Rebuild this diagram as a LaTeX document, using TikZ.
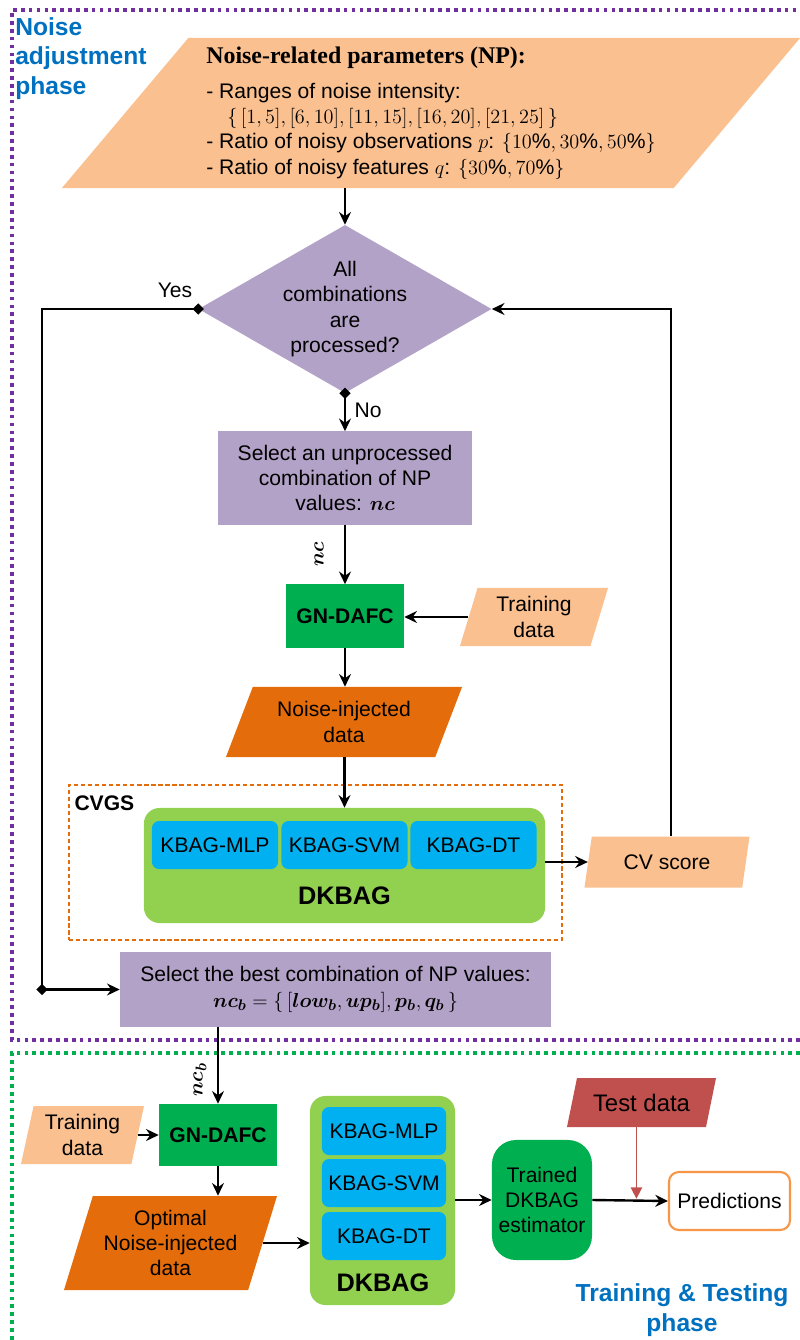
\documentclass[tikz,border=0pt]{standalone}
\usepackage{amsmath,bm}
\usepackage{fontspec}
\setmainfont{Liberation Sans}
\newfontfamily\npfont{Liberation Serif}
\usetikzlibrary{shapes.geometric,arrows.meta,calc}

\definecolor{npfill}{HTML}{FAC090}
\definecolor{npurple}{HTML}{B3A2C7}
\definecolor{ngreen}{HTML}{00B050}
\definecolor{lgreen}{HTML}{92D050}
\definecolor{kblue}{HTML}{00B0F0}
\definecolor{dorange}{HTML}{E46C0A}
\definecolor{tred}{HTML}{C0504D}
\definecolor{porange}{HTML}{F79646}
\definecolor{phblue}{HTML}{0070C0}
\definecolor{fpurple}{HTML}{7030A0}

\tikzset{
  iobox/.style={trapezium, trapezium stretches body, trapezium left angle=#1,
    trapezium right angle={180-#1}, align=center},
  procbox/.style={rectangle, fill=npurple, align=center},
  gnbox/.style={rectangle, fill=ngreen, font=\fontsize{15}{18}\selectfont\bfseries},
  kbox/.style={rectangle, rounded corners=5pt, fill=kblue,
    minimum width=3.15cm, minimum height=1.2cm},
  ensbox/.style={rectangle, rounded corners=11pt, fill=lgreen},
  conn/.style={line width=1.7pt, -{Stealth[length=9pt,width=8.5pt,inset=3pt]}},
  dline/.style={line width=1.7pt, {Diamond[length=8pt,width=8pt]}-, shorten <=-4pt},
  dconn/.style={line width=1.7pt, shorten <=-4pt,
    {Diamond[length=8pt,width=8pt]}-{Stealth[length=9pt,width=8.5pt,inset=3pt]}},
  dotframe/.style={line width=2.6pt, dash pattern=on 2.6pt off 3pt},
  phase/.style={text=phblue, font=\fontsize{17.5}{21}\selectfont\bfseries}
}

\begin{document}
\begin{tikzpicture}[x=0.025cm, y=-0.025cm,
    every node/.style={inner sep=0pt, font=\fontsize{15}{18}\selectfont}]
  \useasboundingbox (0,0) rectangle (800,1340);

  % phase frames
  \draw[dotframe, fpurple] (800,1040) -- (12,1040) -- (12,10) -- (800,10);
  \draw[dotframe, ngreen] (800,1053) -- (12,1053) -- (12,1340);
  \node[phase, anchor=north west, align=left] (ph1) at (15,17) {Noise\\adjustment\\phase};
  \node[phase, align=center] (ph2) at (682,1310) {Training \& Testing\\phase};

  % noise adjustment phase
  \node[iobox=46.4, fill=npfill, minimum width=18.45cm, minimum height=3.75cm, align=left] (np) at (431,113)
    {{\npfont\bfseries\fontsize{17}{19}\selectfont Noise-related parameters (NP):}\\[7pt]
     - Ranges of noise intensity:\\
     \quad$\{\,[1,5],[6,10],[11,15],[16,20],[21,25]\,\}$\\
     - Ratio of noisy observations $p$: $\{10\%,30\%,50\%\}$\\
     - Ratio of noisy features $q$: $\{30\%,70\%\}$};
  \node[diamond, fill=npurple, aspect=1.744, minimum width=7.325cm, minimum height=4.2cm,
    label={[align=center]center:All\\combinations\\are\\processed?}] (dia) at (345,309) {};
  \node[procbox, minimum width=6.35cm, minimum height=2.325cm] (sel) at (345,478)
    {Select an unprocessed\\combination of NP\\values: $\bm{nc}$};
  \node[gnbox, minimum width=2.95cm, minimum height=1.575cm] (gn) at (345,616) {GN-DAFC};
  \node[iobox=66.7, fill=npfill, minimum width=3.7cm, minimum height=1.45cm] (tr1) at (534,617) {Training\\data};
  \node[iobox=56.7, fill=dorange, minimum width=5.9cm, minimum height=1.75cm] (noi) at (344,722) {Noise-injected\\data};
  \node[draw=dorange, dash pattern=on 3pt off 2pt, line width=1pt,
    minimum width=12.325cm, minimum height=3.875cm] (cvgs) at (315.5,862.5) {};
  \node[anchor=north west, font=\fontsize{15}{18}\selectfont\bfseries] (cvgslab) at ($(cvgs.north west)+(6,11)$) {CVGS};
  \node[ensbox, minimum width=10.025cm, minimum height=2.875cm] (dk) at (344.5,865.5) {};
  \node[kbox] (mlp) at (215,845) {KBAG-MLP};
  \node[kbox] (svm) at (344.5,845) {KBAG-SVM};
  \node[kbox] (dt) at (473.5,845) {KBAG-DT};
  \node[font=\fontsize{18}{20}\selectfont\bfseries] (dklab) at (344.5,896) {DKBAG};
  \node[iobox=63.9, fill=npfill, minimum width=4.125cm, minimum height=1.275cm] (cv) at (667,862) {CV score};
  \node[procbox, minimum width=10.775cm, minimum height=1.875cm] (best) at (335.5,989.5)
    {Select the best combination of NP values:\\
     $\bm{nc_b}=\{\,[\bm{low_b},\bm{up_b}],\bm{p_b},\bm{q_b}\,\}$};
  \coordinate (yc) at (42,989.5);

  \draw[conn] (np.south -| dia.north) -- (dia.north);
  \draw[dline] (dia.west) -| (yc);
  \node (yes) at (175,290) {Yes};
  \draw[dconn] (yc) -- (best.west);
  \draw[dconn] (dia.south) -- (sel.north);
  \node (no) at (368,410) {No};
  \draw[conn] (sel.south) -- (gn.north);
  \node[rotate=90] (nclab) at ($(sel.south)!.5!(gn.north)+(-26,0)$) {$\bm{nc}$};
  \draw[conn] (tr1.west) -- (tr1.west -| gn.east);
  \draw[conn] (gn.south) -- (gn.south |- noi.north);
  \draw[conn] (dk.north |- noi.south) -- (dk.north);
  \draw[conn] (dk.east |- cv.west) -- (cv.west);
  \draw[conn] ($(cv.top left corner)!.5!(cv.top right corner)$) |- (dia.east);

  % training and testing phase
  \node[gnbox, minimum width=2.95cm, minimum height=1.55cm] (gn2) at (218,1135) {GN-DAFC};
  \node[iobox=72.8, fill=npfill, minimum width=3.075cm, minimum height=1.45cm] (tr2) at (82.5,1135) {Training\\data};
  \node[iobox=66.4, fill=dorange, minimum width=5.325cm, minimum height=2.35cm] (opt) at (170.5,1243)
    {Optimal\\Noise-injected\\data};
  \node[ensbox, minimum width=3.625cm, minimum height=5.225cm] (dk2) at (382.5,1200.5) {};
  \node[kbox, minimum width=3.1cm] (mlp2) at (384,1131) {KBAG-MLP};
  \node[kbox, minimum width=3.1cm] (svm2) at (384,1183) {KBAG-SVM};
  \node[kbox, minimum width=3.1cm] (dt2) at (384,1236) {KBAG-DT};
  \node[font=\fontsize{18}{20}\selectfont\bfseries] (dk2lab) at (383,1283) {DKBAG};
  \node[rectangle, rounded corners=0.6cm, fill=ngreen, align=center,
    minimum width=2.5cm, minimum height=3cm] (est) at (542,1200) {Trained\\DKBAG\\estimator};
  \node[rectangle, rounded corners=7pt, draw=porange, line width=1.5pt, fill=white,
    minimum width=3.025cm, minimum height=1.45cm] (pred) at (729.5,1201) {Predictions};
  \node[iobox=60.3, fill=tred, minimum width=3.725cm, minimum height=1.225cm,
    font=\fontsize{17}{20}\selectfont] (test) at (641.5,1102.5) {Test data};

  \draw[conn] (gn2.north |- best.south) -- (gn2.north);
  \node[rotate=90] (ncblab) at ($(gn2.north)+(-18,-24)$) {$\bm{nc_b}$};
  \draw[conn] (tr2.east) -- (tr2.east -| gn2.west);
  \draw[conn] (gn2.south) -- (gn2.south |- opt.north);
  \draw[conn] (opt.east) -- (opt.east -| dk2.west);
  \draw[conn] (dk2.east |- est.west) -- (est.west);
  \draw[conn] (est.east) -- (pred.west);
  \draw[tred, line width=1pt, -{Triangle[length=8pt,width=8pt]}, shorten >=0.9pt]
    ($(test.bottom left corner)!.5!(test.bottom right corner)$) coordinate (tb) -- (tb |- est.east);
\end{tikzpicture}
\end{document}
